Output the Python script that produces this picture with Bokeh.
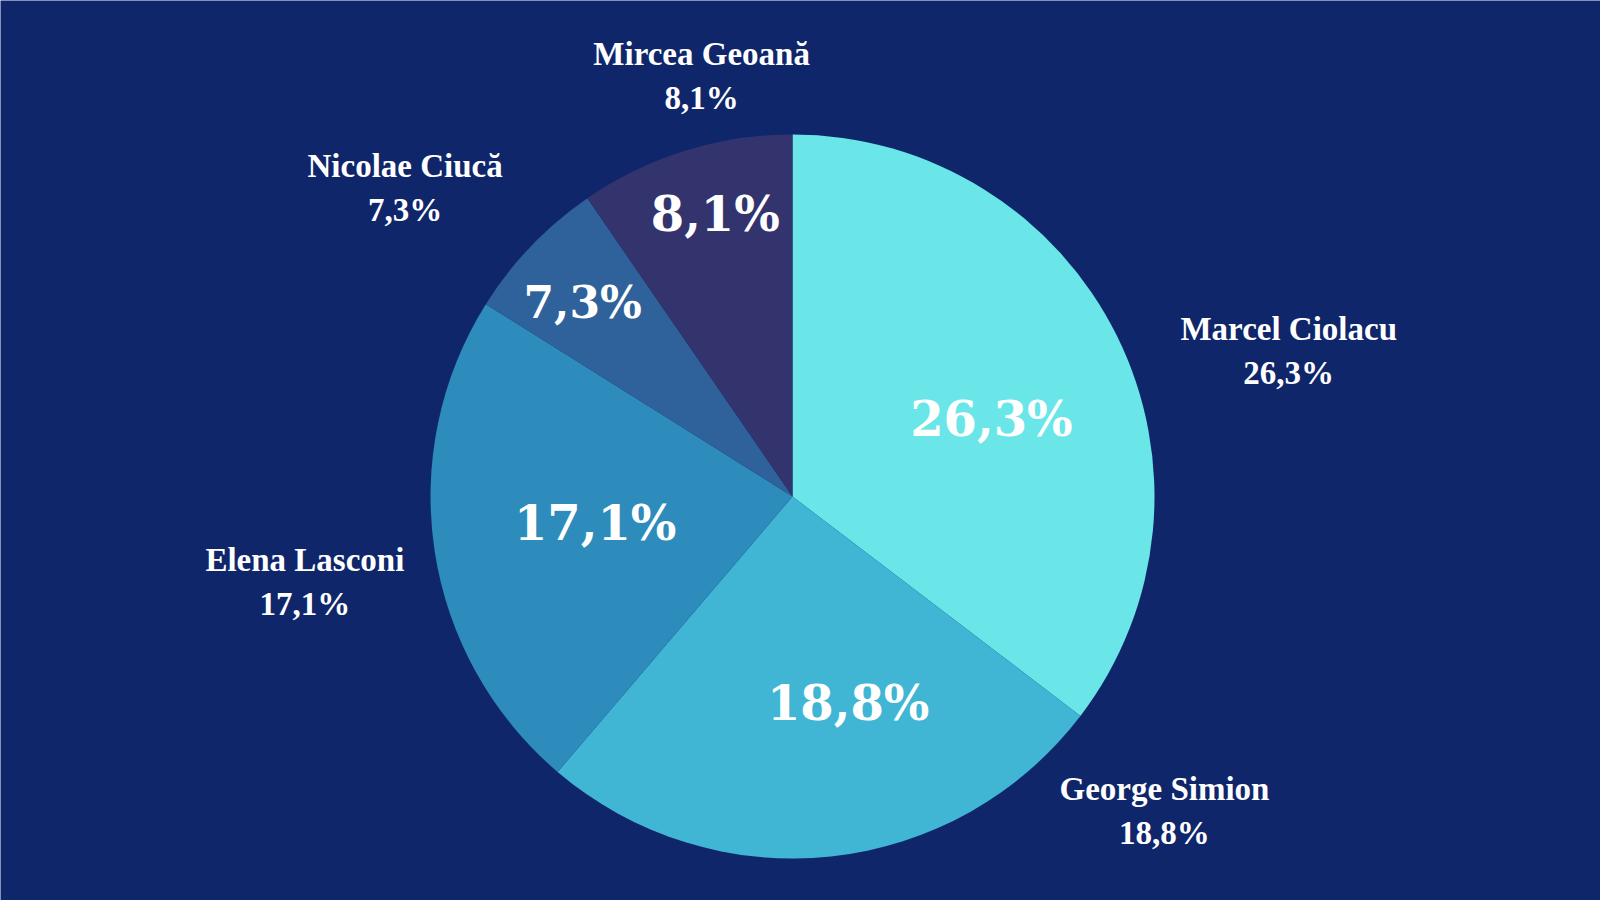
import numpy as np
from bokeh.plotting import figure
from bokeh.models import Range1d, ColumnDataSource
from bokeh.core.properties import value
from bokeh.embed import file_html
from bokeh.resources import INLINE

# ---- data ----
candidates = ["Marcel Ciolacu", "George Simion", "Elena Lasconi", "Nicolae Ciucă", "Mircea Geoană"]
percent_labels = ["26,3%", "18,8%", "17,1%", "7,3%", "8,1%"]
# slice shares as drawn in the picture (estimated)
slice_shares = [35.4, 25.9, 22.7, 6.5, 9.6]

# ---- style ----
colors = ["#6ae6e9", "#40b6d4", "#2d8cbc", "#2f619a", "#33346e"]
bg = "#10266a"
W, H = 1600, 900
cx, cy, R = 792, 900 - 496, 362
inner_frac = [0.59, 0.59, 0.55, 0.79, 0.81]
inner_ang_off = [5, -9, 1, -1, 2]          # degrees, clockwise offset from mid-angle
inner_size = ["48px", "48px", "48px", "44px", "48px"]
outer_ang = [73.7, 130.2, 260.1, 308.5, 347.8]  # degrees clockwise from top
outer_dist = [517, 487, 495, 495, 430]

shares = np.array(slice_shares, dtype=float)
frac = shares / shares.sum()
cum = np.concatenate([[0], np.cumsum(frac)])
start = np.pi / 2 - cum[:-1] * 2 * np.pi
end = np.pi / 2 - cum[1:] * 2 * np.pi
mid_cw = (cum[:-1] + cum[1:]) / 2 * 360  # degrees clockwise from top

src = ColumnDataSource(dict(start=start, end=end, color=colors))

p = figure(width=W, height=H, x_range=Range1d(0, W), y_range=Range1d(0, H),
           output_backend="svg", toolbar_location=None, min_border=0)
p.background_fill_color = bg
p.border_fill_color = bg
p.outline_line_color = None
p.axis.visible = False
p.grid.visible = False

p.wedge(x=cx, y=cy, radius=R, start_angle="start", end_angle="end",
        direction="clock", fill_color="color", line_color=None, source=src)

# inner labels
ia = np.radians(mid_cw + np.array(inner_ang_off))
ix = cx + np.array(inner_frac) * R * np.sin(ia)
iy = cy + np.array(inner_frac) * R * np.cos(ia)
isrc = ColumnDataSource(dict(x=ix, y=iy, t=percent_labels, s=inner_size))
p.text(x="x", y="y", text="t", text_font_size="s", source=isrc,
       text_align="center", text_baseline="middle",
       text_color="white", text_font=value("DejaVu Serif"), text_font_style="bold")

# outer labels
oa = np.radians(np.array(outer_ang))
ox = cx + np.array(outer_dist) * np.sin(oa)
oy = cy + np.array(outer_dist) * np.cos(oa)
p.text(x=ox, y=oy + 22, text=candidates, text_align="center", text_baseline="middle",
       text_color="white", text_font=value("Liberation Serif"), text_font_style="bold",
       text_font_size="33px")
p.text(x=ox, y=oy - 22, text=percent_labels, text_align="center", text_baseline="middle",
       text_color="white", text_font=value("Liberation Serif"), text_font_style="bold",
       text_font_size="33px")

open("out.html", "w").write(file_html(p, INLINE))
